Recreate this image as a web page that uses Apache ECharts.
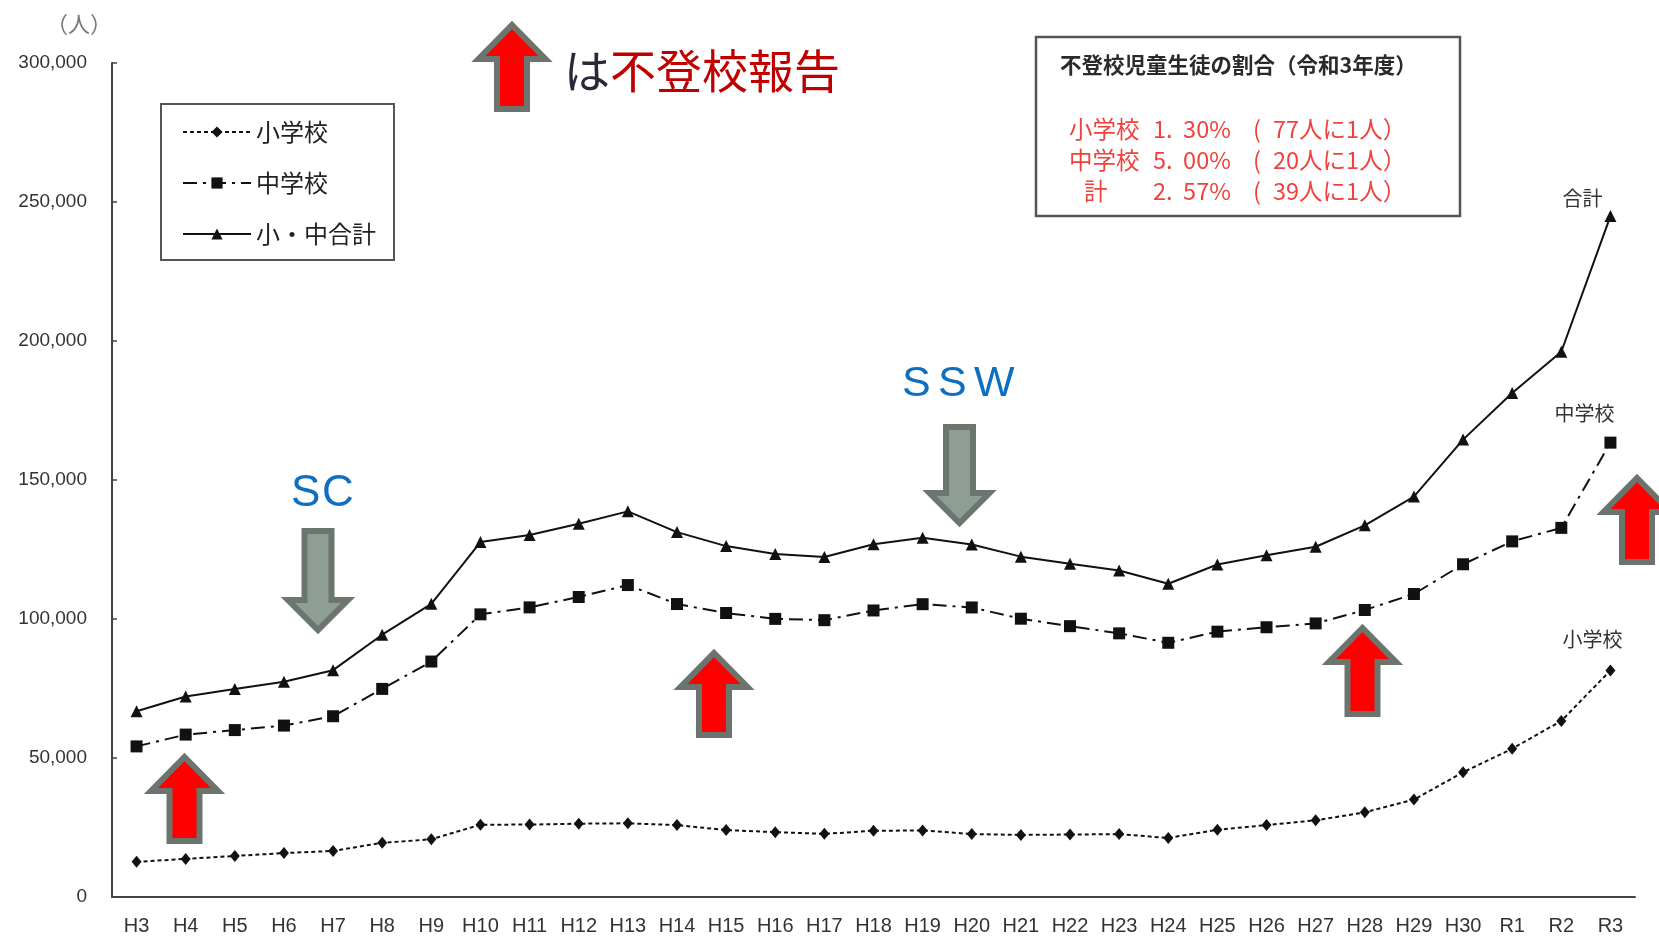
<!DOCTYPE html>
<html>
<head>
<meta charset="utf-8">
<script src="https://cdn.jsdelivr.net/npm/echarts@6/dist/echarts.min.js"></script>
<style>
  html, body { margin: 0; padding: 0; background: #ffffff; }
  #chart { width: 1659px; height: 938px; }
</style>
</head>
<body>
<div id="chart"></div>
<script>
// School years (Heisei 3 .. Reiwa 3)
const years = ['H3','H4','H5','H6','H7','H8','H9','H10','H11','H12','H13','H14','H15','H16','H17',
  'H18','H19','H20','H21','H22','H23','H24','H25','H26','H27','H28','H29','H30','R1','R2','R3'];

// Number of students not attending school (人)
const elementary = [12645,13710,14769,15786,16569,19498,20765,26017,26047,26373,26511,25869,24077,23318,22709,
  23825,23927,22652,22327,22463,22622,21243,24175,25864,27583,30448,35032,44841,53350,63350,81498];
const juniorHigh = [54172,58421,60039,61663,65022,74853,84701,101675,104180,107913,112211,105383,102149,100040,99578,
  103069,105328,104153,100105,97428,94836,91446,95442,97033,98408,103235,108999,119687,127922,132777,163442];
const total = [66817,72131,74808,77449,81591,94351,105466,127692,130227,134286,138722,131252,126226,123358,122287,
  126894,129255,126805,122432,119891,117458,112689,119617,122897,125991,133683,144031,164528,181272,196127,244940];

// Value axis range
const yMin = 0, yMax = 300000, yStep = 50000;

// Series names and end-of-line tags
const seriesNames = ['小学校', '中学校', '小・中合計'];
const endTags = ['小学校', '中学校', '合計'];

// Ratio panel (令和3年度)
const ratioTitle = '不登校児童生徒の割合（令和3年度）';
const ratioLabels = ['小学校', '中学校', '計'];
const ratioPercents = ['1. 30%', '5. 00%', '2. 57%'];
const ratioPeople = ['77人に1人）', '20人に1人）', '39人に1人）'];

const INK = '#111111';
const AXIS = '#444444';
const CJK = 'Noto Sans CJK JP';

function withEndLabel(values, tag, offset) {
  return values.map((v, i) => i === values.length - 1
    ? { value: v, label: { show: true, position: 'top', formatter: tag, offset: offset,
        fontSize: 20, color: '#333', fontFamily: CJK } }
    : v);
}

// Block-arrow outline: cx centre, top/bottom outer y, w head width, hh head height, sw shaft width
function arrowPoints(cx, top, bottom, w, hh, sw, up) {
  const hw = w / 2, hs = sw / 2;
  if (up) {
    return [[cx, top], [cx + hw, top + hh], [cx + hs, top + hh], [cx + hs, bottom],
            [cx - hs, bottom], [cx - hs, top + hh], [cx - hw, top + hh]];
  }
  return [[cx - hs, top], [cx + hs, top], [cx + hs, bottom - hh], [cx + hw, bottom - hh],
          [cx, bottom], [cx - hw, bottom - hh], [cx - hs, bottom - hh]];
}
function redArrow(cx, top, bottom) {
  return { type: 'polygon', z: 50,
    shape: { points: arrowPoints(cx, top + 3, bottom - 3, 67, 34, 30, true) },
    style: { fill: '#ff0000', stroke: '#6b756e', lineWidth: 6, lineJoin: 'miter' } };
}
function grayArrow(cx, top, bottom) {
  return { type: 'polygon', z: 50,
    shape: { points: arrowPoints(cx, top + 3, bottom - 3, 60, 30, 27, false) },
    style: { fill: '#8f9e94', stroke: '#6b776e', lineWidth: 6, lineJoin: 'miter' } };
}
function spacedText(str, left, cy, step, size, color) {
  return str.split('').map((ch, i) => ({ type: 'text', z: 50, left: left + i * step, top: cy - size * 0.58,
    style: { text: ch, fontSize: size, fill: color, fontFamily: 'Liberation Sans, Arial, sans-serif' } }));
}

const chart = echarts.init(document.getElementById('chart'), null, { renderer: 'canvas' });

const ratioRowY = [130, 161, 192];
const ratioGraphics = [
  { type: 'rect', z: 40, shape: { x: 1036, y: 37, width: 424, height: 179 },
    style: { fill: '#ffffff', stroke: '#555555', lineWidth: 2.5 } },
  { type: 'text', z: 41, left: 1060, top: 54,
    style: { text: ratioTitle, fontSize: 21.5, fill: '#2a2a2a', fontWeight: 'bold', fontFamily: CJK } }
];
ratioLabels.forEach((lab, i) => {
  const y = ratioRowY[i] - 13;
  const redStyle = { fontSize: 23.5, fill: '#f0423c', fontFamily: CJK };
  ratioGraphics.push(
    { type: 'text', z: 41, left: lab.length === 1 ? 1084 : 1069, top: y, style: Object.assign({ text: lab }, redStyle) },
    { type: 'text', z: 41, left: 1153, top: y, style: Object.assign({ text: ratioPercents[i].replace(' ', '  ') }, redStyle) },
    { type: 'text', z: 41, left: 1253, top: y, style: Object.assign({ text: '(' }, redStyle) },
    { type: 'text', z: 41, left: 1273, top: y, style: Object.assign({ text: ratioPeople[i] }, redStyle) }
  );
});

const option = {
  backgroundColor: '#ffffff',
  animation: false,
  grid: { left: 112, right: 24, top: 63, bottom: 41, containLabel: false },
  legend: {
    orient: 'vertical', left: 161, top: 104,
    data: seriesNames,
    itemWidth: 68, itemHeight: 14, itemGap: 25,
    padding: [15, 18, 13, 21],
    borderColor: '#555555', borderWidth: 2, backgroundColor: '#ffffff',
    textStyle: { fontSize: 24, color: '#222', lineHeight: 26, fontFamily: CJK }
  },
  xAxis: {
    type: 'category', data: years, boundaryGap: true,
    axisLine: { lineStyle: { color: AXIS, width: 2 } },
    axisTick: { inside: true, length: 6, lineStyle: { color: AXIS, width: 1.5 } },
    axisLabel: { margin: 19, fontSize: 20, color: '#333', interval: 0,
      fontFamily: 'Liberation Sans Narrow, Liberation Sans, Arial, sans-serif' },
    splitLine: { show: false }
  },
  yAxis: {
    type: 'value', min: yMin, max: yMax, interval: yStep,
    name: '（人）', nameLocation: 'end', nameGap: 28,
    nameTextStyle: { fontSize: 22, color: '#777', align: 'right', fontFamily: CJK },
    axisLine: { show: true, lineStyle: { color: AXIS, width: 2 } },
    axisTick: { show: true, inside: true, length: 5, lineStyle: { color: AXIS, width: 1.5 } },
    axisLabel: { margin: 25, fontSize: 19, color: '#333',
      fontFamily: 'Liberation Sans Narrow, Liberation Sans, Arial, sans-serif',
      formatter: v => v.toLocaleString('en-US') },
    splitLine: { show: false }
  },
  series: [
    { name: seriesNames[0], type: 'line', data: withEndLabel(elementary, endTags[0], [-18, -10]),
      symbol: 'diamond', symbolSize: [10, 12], color: INK,
      lineStyle: { color: INK, width: 2, type: [4, 3] }, itemStyle: { color: INK }, z: 3 },
    { name: seriesNames[1], type: 'line', data: withEndLabel(juniorHigh, endTags[1], [-26, -8]),
      symbol: 'rect', symbolSize: 12, color: INK,
      lineStyle: { color: INK, width: 2, type: [14, 6, 3, 6] }, itemStyle: { color: INK }, z: 3 },
    { name: seriesNames[2], type: 'line', data: withEndLabel(total, endTags[2], [-28, 3]),
      symbol: 'triangle', symbolSize: 12, color: INK,
      lineStyle: { color: INK, width: 2, type: 'solid' }, itemStyle: { color: INK }, z: 3 }
  ],
  graphic: [].concat(
    [
      redArrow(512, 22, 112),
      { type: 'text', z: 50, left: 564, top: 48,
        style: { text: '{a|は}{b|不登校報告}', fontSize: 46, fontFamily: CJK,
          rich: { a: { fontSize: 46, fill: '#282838', fontFamily: CJK },
                  b: { fontSize: 46, fill: '#c00000', fontFamily: CJK } } } },
      redArrow(184.5, 754, 844),
      redArrow(714, 650, 738),
      redArrow(1362.5, 625, 717),
      redArrow(1637, 475, 565),
      grayArrow(318, 528, 633),
      grayArrow(959.5, 424, 526)
    ],
    spacedText('SC', 291, 497, 31, 44, '#0e6fc0'),
    spacedText('SSW', 902, 388, 36, 43, '#0e6fc0'),
    ratioGraphics
  )
};

chart.setOption(option);
</script>
</body>
</html>
